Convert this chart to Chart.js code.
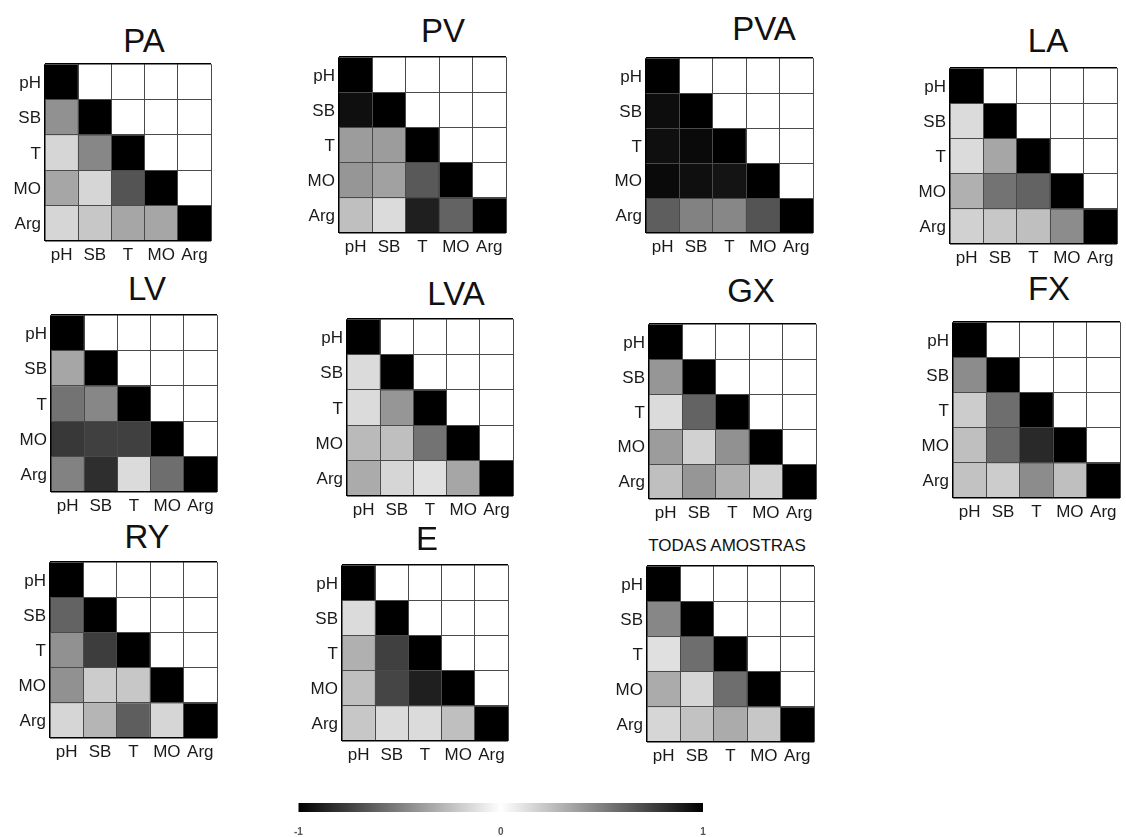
<!DOCTYPE html>
<html>
<head>
<meta charset="utf-8">
<script src="https://cdn.jsdelivr.net/npm/chart.js@4.4.1/dist/chart.umd.min.js"></script>
<style>
body { margin: 0; background: #fff; width: 1126px; height: 837px; position: relative; overflow: hidden; font-family: "Liberation Sans", Arial, sans-serif; }
canvas { position: absolute; }
.title { position: absolute; transform: translateX(-50%); font-size: 33px; line-height: 33px; color: #111; white-space: nowrap; }
.title.small { font-size: 17px; line-height: 17px; }
</style>
</head>
<body>
<script>
// variables (rows top->bottom, columns left->right)
const vars = ['pH', 'SB', 'T', 'MO', 'Arg'];

// |r| read from the grey level, lower triangle only (upper triangle is left blank)
const PA  = [[1], [0.43, 1], [0.16, 0.47, 1], [0.35, 0.16, 0.67, 1], [0.16, 0.22, 0.35, 0.35, 1]];
const PV  = [[1], [0.94, 1], [0.39, 0.39, 1], [0.41, 0.37, 0.65, 1], [0.25, 0.14, 0.88, 0.61, 1]];
const PVA = [[1], [0.95, 1], [0.94, 0.96, 1], [0.96, 0.94, 0.92, 1], [0.63, 0.49, 0.47, 0.67, 1]];
const LA  = [[1], [0.14, 1], [0.14, 0.35, 1], [0.31, 0.55, 0.61, 1], [0.18, 0.22, 0.25, 0.45, 1]];
const LV  = [[1], [0.35, 1], [0.55, 0.47, 1], [0.78, 0.75, 0.75, 1], [0.49, 0.82, 0.14, 0.57, 1]];
const LVA = [[1], [0.14, 1], [0.14, 0.41, 1], [0.27, 0.25, 0.55, 1], [0.33, 0.16, 0.12, 0.35, 1]];
const GX  = [[1], [0.41, 1], [0.14, 0.61, 1], [0.39, 0.18, 0.43, 1], [0.25, 0.41, 0.31, 0.18, 1]];
const FX  = [[1], [0.45, 1], [0.20, 0.57, 1], [0.25, 0.59, 0.84, 1], [0.24, 0.20, 0.45, 0.25, 1]];
const RY  = [[1], [0.61, 1], [0.43, 0.76, 1], [0.43, 0.20, 0.22, 1], [0.16, 0.29, 0.63, 0.16, 1]];
const E   = [[1], [0.14, 1], [0.31, 0.75, 1], [0.25, 0.73, 0.88, 1], [0.22, 0.14, 0.14, 0.25, 1]];
const ALL = [[1], [0.47, 1], [0.12, 0.57, 1], [0.33, 0.16, 0.57, 1], [0.16, 0.24, 0.33, 0.22, 1]];

const panelNames = ['PA', 'PV', 'PVA', 'LA', 'LV', 'LVA', 'GX', 'FX', 'RY', 'E', 'TODAS AMOSTRAS'];
const panelData  = [PA, PV, PVA, LA, LV, LVA, GX, FX, RY, E, ALL];

// colour bar
const barRange = [-1, 1];
const barTicks = [-1, 0, 1];

// where each grid sits on the page (x, y, w, h) and the title centre / cap top
const layout = [
  { x: 45,  y: 52,  w: 166, h: 189, tx: 144,  ty: 27 },
  { x: 339, y: 45,  w: 167, h: 188, tx: 443,  ty: 17 },
  { x: 646, y: 46,  w: 167, h: 187, tx: 764,  ty: 15 },
  { x: 950, y: 56,  w: 167, h: 188, tx: 1048, ty: 27 },
  { x: 51,  y: 303, w: 166, h: 189, tx: 147,  ty: 275 },
  { x: 347, y: 307, w: 166, h: 189, tx: 456,  ty: 280 },
  { x: 649, y: 312, w: 167, h: 187, tx: 751,  ty: 277 },
  { x: 953, y: 310, w: 167, h: 188, tx: 1049, ty: 275 },
  { x: 50,  y: 550, w: 167, h: 188, tx: 147,  ty: 523 },
  { x: 342, y: 553, w: 166, h: 188, tx: 427,  ty: 525 },
  { x: 647, y: 554, w: 167, h: 188, tx: 727,  ty: 539, small: true }
];

// symmetric grey map: 0 -> white, +/-1 -> black
function grey(r) {
  const g = Math.round(255 * (1 - Math.min(1, Math.abs(r))));
  return `rgb(${g},${g},${g})`;
}

const LEFT = 44, BOTTOM = 26, PAD_T = 2, PAD_R = 3;
const edgeColor = (n) => (ctx) => (ctx.index === 0 || ctx.index === n) ? '#000' : '#4a4a4a';
const edgeWidth = (n) => (ctx) => (ctx.index === 0 || ctx.index === n) ? 1.5 : 1;
const tickFont = { size: 17, family: 'Liberation Sans' };

panelData.forEach((m, k) => {
  const L = layout[k];
  const n = vars.length;

  const t = document.createElement('div');
  t.className = 'title' + (L.small ? ' small' : '');
  t.textContent = panelNames[k];
  t.style.left = L.tx + 'px';
  t.style.top = (L.ty - (L.small ? 2 : 3)) + 'px';
  document.body.appendChild(t);

  const cv = document.createElement('canvas');
  cv.width = L.w + LEFT + PAD_R;
  cv.height = L.h + PAD_T + BOTTOM;
  cv.style.left = (L.x - LEFT) + 'px';
  cv.style.top = (L.y - PAD_T) + 'px';
  document.body.appendChild(cv);

  // one dataset per row, each cell a floating bar spanning [row, row+1]
  const datasets = vars.map((row, i) => ({
    label: row,
    data: vars.map(() => [i, i + 1]),
    backgroundColor: vars.map((c, j) => grey(j <= i ? m[i][j] : 0)),
    borderWidth: 0,
    barPercentage: 1,
    categoryPercentage: 1,
    grouped: false
  }));

  new Chart(cv, {
    type: 'bar',
    data: { labels: vars, datasets },
    options: {
      responsive: false,
      animation: false,
      events: [],
      layout: { padding: { top: PAD_T, right: PAD_R } },
      plugins: { legend: { display: false }, tooltip: { enabled: false } },
      scales: {
        x: {
          offset: true,
          grid: { z: 1, offset: true, color: edgeColor(n), lineWidth: edgeWidth(n), drawTicks: false },
          border: { display: false },
          ticks: { color: '#1a1a1a', font: tickFont, padding: 4, maxRotation: 0, autoSkip: false },
          afterFit: (s) => { s.height = BOTTOM; }
        },
        y: {
          reverse: true,
          min: 0,
          max: n,
          grid: { z: 1, color: edgeColor(n), lineWidth: edgeWidth(n), drawTicks: false },
          border: { display: false },
          ticks: {
            stepSize: 1,
            autoSkip: false,
            color: '#1a1a1a',
            font: tickFont,
            padding: 4,
            labelOffset: L.h / n / 2,
            callback: (v) => vars[v] ?? ''
          },
          afterFit: (s) => { s.width = LEFT; }
        }
      }
    }
  });
});

// colour bar from -1 to 1
const cb = document.createElement('canvas');
cb.width = 440;
cb.height = 37;
cb.style.left = '280px';
cb.style.top = '800px';
document.body.appendChild(cb);

new Chart(cb, {
  type: 'bar',
  data: {
    labels: [''],
    datasets: [{
      data: [barRange],
      borderWidth: 0,
      barPercentage: 1,
      categoryPercentage: 1,
      backgroundColor: (ctx) => {
        const a = ctx.chart.chartArea;
        if (!a) return '#000';
        const g = ctx.chart.ctx.createLinearGradient(a.left, 0, a.right, 0);
        barTicks.forEach((v) => g.addColorStop((v - barRange[0]) / (barRange[1] - barRange[0]), grey(v)));
        return g;
      }
    }]
  },
  options: {
    indexAxis: 'y',
    responsive: false,
    animation: false,
    events: [],
    layout: { padding: { left: 18, right: 17, top: 3 } },
    plugins: { legend: { display: false }, tooltip: { enabled: false } },
    scales: {
      y: { display: false },
      x: {
        min: barRange[0],
        max: barRange[1],
        grid: { display: false, drawTicks: false },
        border: { display: false },
        afterBuildTicks: (s) => { s.ticks = barTicks.map((v) => ({ value: v })); },
        ticks: { color: '#555', font: { size: 10, weight: 'bold', family: 'Liberation Sans' }, padding: 14 },
        afterFit: (s) => { s.height = 25; }
      }
    }
  }
});
</script>
</body>
</html>
